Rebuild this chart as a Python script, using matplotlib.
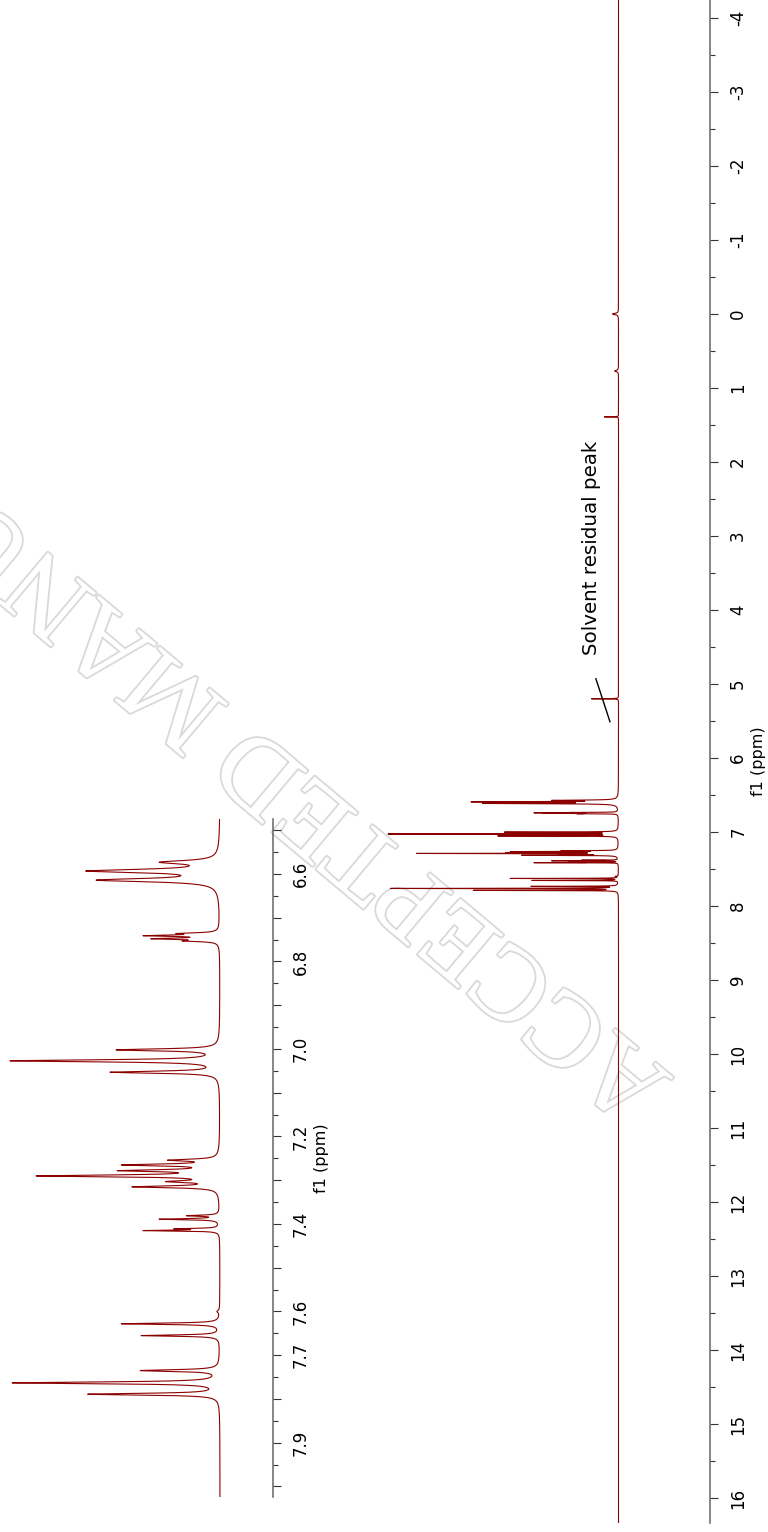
import numpy as np
import matplotlib
matplotlib.use("Agg")
import matplotlib.pyplot as plt
import matplotlib.patheffects as pe
from matplotlib.ticker import MultipleLocator

# ---------------- data ----------------
# peak positions (ppm), observed tip heights (relative to tallest), half widths (ppm)
peak_ppm = np.array([
    0.00, 0.77, 1.39, 5.20,
    6.573, 6.593, 6.614,
    6.736, 6.741, 6.748, 6.753,
    7.002, 7.027, 7.053,
    7.254, 7.265, 7.278, 7.290, 7.303, 7.315,
    7.381, 7.389, 7.411, 7.415,
    7.600,
    7.628, 7.655,
    7.735, 7.763, 7.789,
])
peak_height = np.array([
    0.026, 0.017, 0.061, 0.117,
    0.29, 0.64, 0.59,
    0.21, 0.367, 0.33, 0.18,
    0.495, 1.0, 0.524,
    0.25, 0.47, 0.49, 0.876, 0.26, 0.42,
    0.16, 0.29, 0.22, 0.367,
    0.015,
    0.47, 0.376,
    0.38, 0.99, 0.63,
])
peak_hwhm = np.array([
    0.010, 0.010, 0.002, 0.002,
    0.0045, 0.0045, 0.0045,
    0.0018, 0.0018, 0.0018, 0.0018,
    0.0028, 0.0028, 0.0028,
    0.0025, 0.0025, 0.0025, 0.0025, 0.0025, 0.0025,
    0.0015, 0.0015, 0.0012, 0.0012,
    0.003,
    0.0018, 0.0018,
    0.0024, 0.0024, 0.0024,
])
solvent_ppm = 5.20

main_ticks = list(range(-4, 17))
inset_ticks = [round(6.5 + 0.1 * i, 1) for i in range(16)]
inset_tick_labels = ["6.6", "6.8", "7.0", "7.2", "7.4", "7.6", "7.7", "7.9"]

# ---------------- line shape ----------------
M = 1.0 / (1.0 + ((peak_ppm[:, None] - peak_ppm[None, :]) / peak_hwhm[None, :]) ** 2)
amp = np.linalg.solve(M, peak_height)


def spectrum(x):
    y = np.zeros_like(x)
    for c, w, a in zip(peak_ppm, peak_hwhm, amp):
        y += a / (1.0 + ((x - c) / w) ** 2)
    return y


W, H = 768, 1532
fig = plt.figure(figsize=(W / 100, H / 100), dpi=100)

LINE = "#8b0000"
TICKFS = 12

# watermark (behind everything)
fig.text(674 / W, 1 - 1078 / H, "ACCEPTED MANUSCRIPT", rotation=140,
         rotation_mode="anchor", ha="left", va="baseline", fontsize=77,
         family="Liberation Serif", color="white", zorder=-5,
         path_effects=[pe.withStroke(linewidth=2.6, foreground="#d9d9d9")])

# ---------------- main spectrum ----------------
ax = fig.add_axes([0, (H - 1523) / H, 710 / W, 1523 / H])
ax.patch.set_visible(False)
x_main = np.sort(np.concatenate([np.linspace(-4.3, 16.4, 207001), peak_ppm]))
ax.plot(spectrum(x_main), x_main, color=LINE, lw=0.8)
ax.set_xlim(618.5 / 230.5, (618.5 - 710) / 230.5)
ax.set_ylim(16.338, -4.243)

for s in ["left", "top", "bottom"]:
    ax.spines[s].set_visible(False)
ax.spines["right"].set_color("#666666")
ax.spines["right"].set_linewidth(1.1)
ax.xaxis.set_visible(False)
ax.yaxis.tick_right()
ax.set_yticks(main_ticks, [str(t) for t in main_ticks], rotation=90, va="center")
ax.yaxis.set_minor_locator(MultipleLocator(0.5))
ax.tick_params(axis="y", which="major", direction="out", length=5.8, width=0.8,
               color="#333333", pad=8.0, labelsize=TICKFS)
ax.tick_params(axis="y", which="minor", direction="out", length=3.6, width=0.8,
               color="#333333")
ax.yaxis.set_label_position("right")
ax.set_ylabel("f1 (ppm)", fontsize=11.5, labelpad=3)

# solvent annotation
ax.plot([0.037, 0.098], [solvent_ppm + 0.31, solvent_ppm - 0.27], color="black", lw=1.0)
ax.text(0.115, solvent_ppm - 0.59, "Solvent residual peak", rotation=90,
        rotation_mode="anchor", ha="left", va="center", fontsize=14.3)

# ---------------- inset (aromatic region) ----------------
ax2 = fig.add_axes([0, (H - 1497) / H, 273 / W, (1497 - 819) / H])
ax2.patch.set_visible(False)
x_in = np.sort(np.concatenate([np.linspace(6.474, 8.024, 31001),
                               peak_ppm[(peak_ppm > 6.474) & (peak_ppm < 8.024)]]))
ax2.plot(spectrum(x_in), x_in, color=LINE, lw=0.8)
ax2.set_xlim(220 / 210, (220 - 273) / 210)
ax2.set_ylim(8.024, 6.4743)
for s in ["left", "top", "bottom"]:
    ax2.spines[s].set_visible(False)
ax2.spines["right"].set_color("#666666")
ax2.spines["right"].set_linewidth(1.1)
ax2.xaxis.set_visible(False)
ax2.yaxis.tick_right()
ax2.set_yticks(inset_ticks,
               [f"{t:.1f}" if f"{t:.1f}" in inset_tick_labels else "" for t in inset_ticks],
               rotation=90, va="center")
ax2.yaxis.set_minor_locator(MultipleLocator(0.05))
ax2.tick_params(axis="y", which="major", direction="out", length=5.8, width=0.8,
                color="#333333", pad=7.5, labelsize=TICKFS)
ax2.tick_params(axis="y", which="minor", direction="out", length=3.6, width=0.8,
                color="#333333")
ax2.yaxis.set_label_position("right")
ax2.set_ylabel("f1 (ppm)", fontsize=11.5, labelpad=3)

fig.savefig("out.png", dpi=100)
